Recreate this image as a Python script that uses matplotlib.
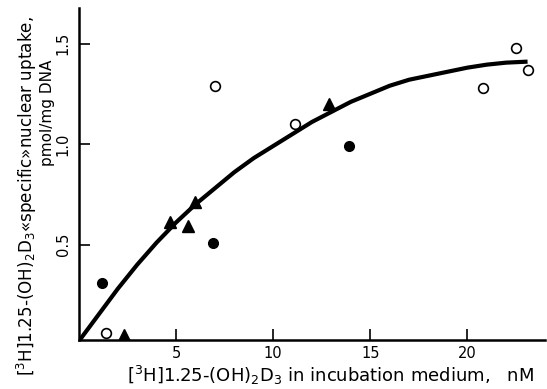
import matplotlib.pyplot as plt

# filled circles
fc_x = [1.2, 6.9, 13.9]
fc_y = [0.31, 0.51, 0.99]
# open circles
oc_x = [1.4, 7.0, 11.1, 20.8, 22.5, 23.1]
oc_y = [0.06, 1.29, 1.10, 1.28, 1.48, 1.37]
# filled triangles
tr_x = [2.3, 4.7, 5.6, 6.0, 12.85]
tr_y = [0.05, 0.61, 0.59, 0.71, 1.20]
# hand drawn curve
curve_x = [0, 1, 2, 3, 4, 5, 6, 7, 8, 9, 10, 11, 12, 13, 14, 15, 16, 17, 18, 19, 20, 21, 22, 23.1]
curve_y = [0.02, 0.15, 0.28, 0.40, 0.51, 0.61, 0.70, 0.78, 0.86, 0.93, 0.99, 1.05, 1.11, 1.16,
           1.21, 1.25, 1.29, 1.32, 1.34, 1.36, 1.38, 1.395, 1.405, 1.41]

plt.rcParams['font.family'] = ['DejaVu Sans']

fig = plt.figure(figsize=(5.47, 3.89), dpi=100)
ax = fig.add_axes([0.1444, 0.126, 0.852, 0.8535])

ax.plot(curve_x, curve_y, color='black', lw=3, solid_capstyle='butt', zorder=2)
ax.plot(fc_x, fc_y, 'o', color='black', ms=7, zorder=3)
ax.plot(oc_x, oc_y, 'o', mfc='white', mec='black', mew=1.2, ms=7, zorder=3)
ax.plot(tr_x, tr_y, '^', color='black', ms=8, zorder=3)

ax.set_xlim(0, 24)
ax.set_ylim(0.025, 1.677)
ax.set_xticks([5, 10, 15, 20])
ax.set_yticks([0.5, 1.0, 1.5])
ax.set_yticklabels(['0.5', '1.0', '1.5'], rotation=90, va='center')
ax.tick_params(direction='in', length=8, width=1.2, labelsize=10.5, pad=4)
ax.tick_params(axis='y', pad=6)
for s in ['top', 'right']:
    ax.spines[s].set_visible(False)
for s in ['left', 'bottom']:
    ax.spines[s].set_linewidth(1.8)

fig.text(0.605, 0.035, r'[$^3$H]1.25-(OH)$_2$D$_3$ in incubation medium,   nM',
         ha='center', va='center', fontsize=13)
fig.text(0.050, 0.958, r'[$^3$H]1.25-(OH)$_2$D$_3$«specific»nuclear uptake,',
         ha='center', va='top', rotation=90, fontsize=12.1)
fig.text(0.087, 0.71, 'pmol/mg DNA', ha='center', va='center', rotation=90, fontsize=11)

fig.savefig('out.png', dpi=100)
